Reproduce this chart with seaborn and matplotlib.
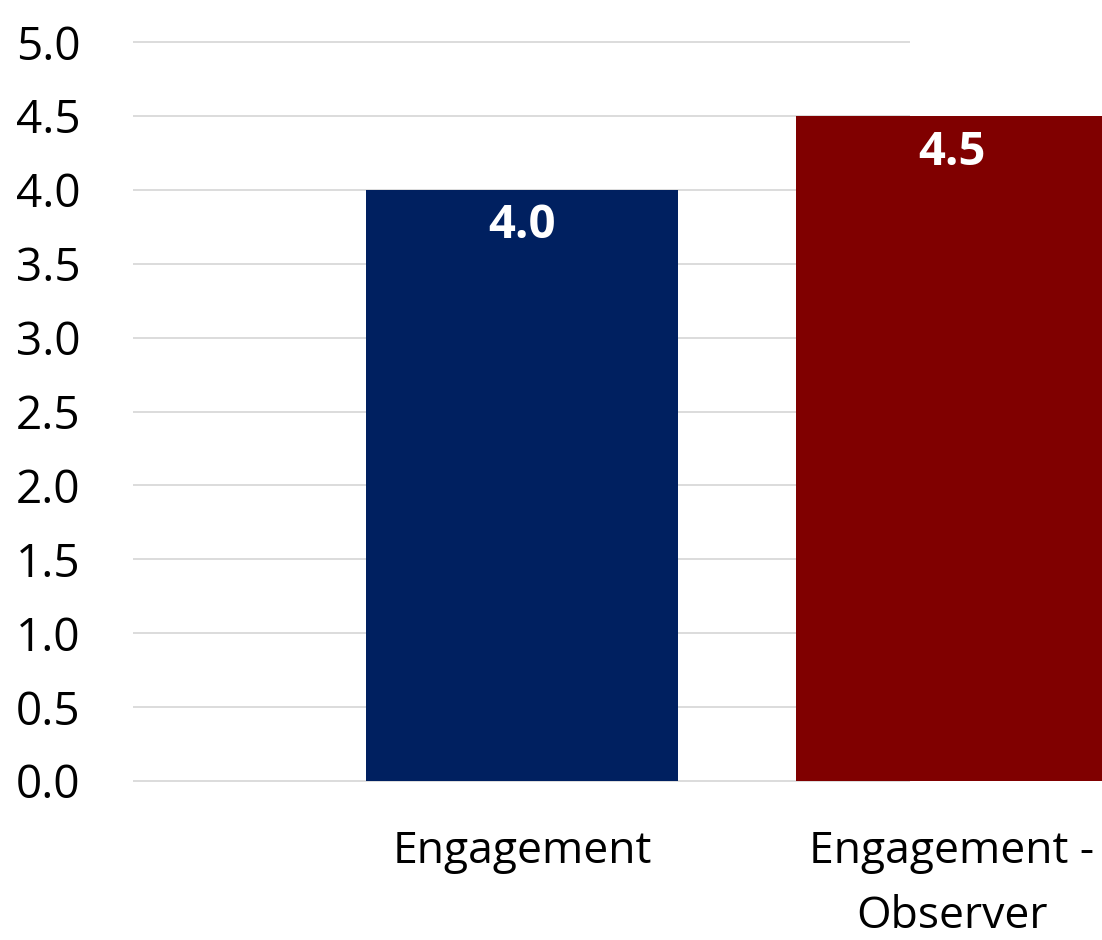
import matplotlib
matplotlib.use("Agg")
import matplotlib.pyplot as plt
import seaborn as sns

categories = ["Engagement", "Engagement -\nObserver"]
values = [4.0, 4.5]
colors = ["#002060", "#800000"]
yticks = [0.0, 0.5, 1.0, 1.5, 2.0, 2.5, 3.0, 3.5, 4.0, 4.5, 5.0]

sns.set_theme(style="white")
plt.rcParams["font.family"] = ["Open Sans", "DejaVu Sans"]

fig = plt.figure(figsize=(11.02, 9.40), dpi=100)
ax = fig.add_axes([133/1102, 159/940, (1102-133)/1102, (781-42)/940])

sns.barplot(x=categories, y=values, hue=categories, palette=colors,
            width=0.7256, legend=False, ax=ax, saturation=1, zorder=3,
            linewidth=0)

ax.set_xlim(-0.905, 1.349)
ax.set_ylim(0, 5.0)
ax.set_yticks(yticks)
ax.set_yticklabels([f"{t:.1f}" for t in yticks])
ax.hlines(yticks, -0.905, 0.902, colors="#d9d9d9", linewidth=1.3, zorder=0, clip_on=False)

for c in ax.containers:
    texts = ax.bar_label(c, fmt="%.1f", label_type="edge", padding=-26,
                         color="white", fontsize=34, fontweight="bold")
    for t in texts:
        t.set_va("center")

ax.tick_params(axis="y", length=0, pad=38, labelsize=33, labelcolor="black")
ax.tick_params(axis="x", length=0, pad=35, labelsize=32, labelcolor="black")
for lbl in ax.get_xticklabels():
    lbl.set_linespacing(1.6)
ax.set_xlabel("")
ax.set_ylabel("")
for s in ax.spines.values():
    s.set_visible(False)
ax.grid(False)

fig.savefig("out.png", dpi=100)
